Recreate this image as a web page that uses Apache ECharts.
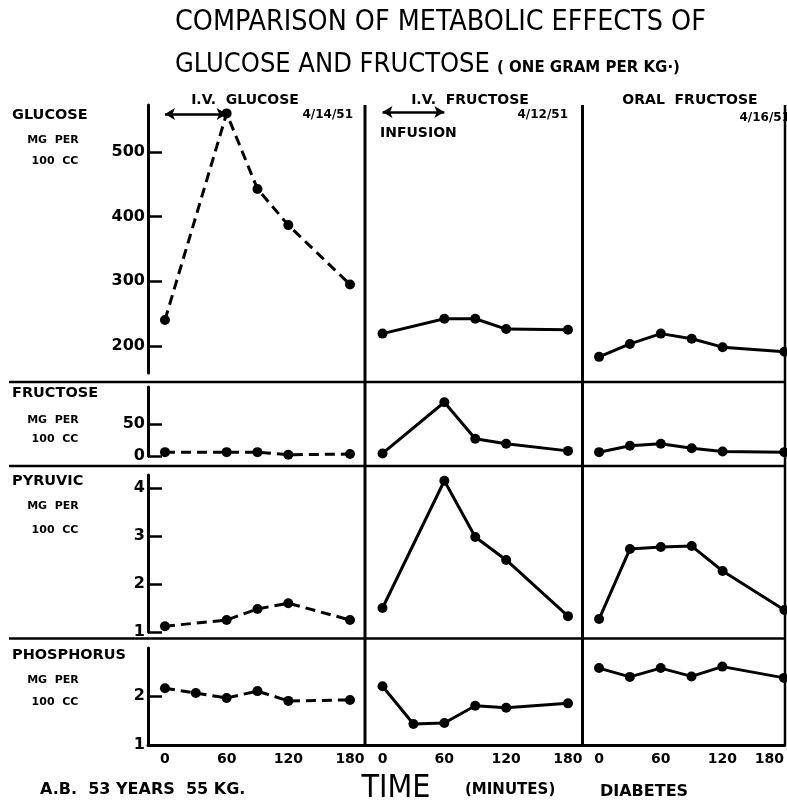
<!DOCTYPE html>
<html><head><meta charset="utf-8">
<script src="https://cdn.jsdelivr.net/npm/echarts@6/dist/echarts.min.js"></script>
<style>html,body{margin:0;padding:0;background:#fff}#c{width:787px;height:800px}</style>
</head><body><div id="c"></div>
<script>
// ---------- DATA ----------
const ivGlucoseTimes = [0, 60, 90, 120, 180];
const ivGlucoseGlucose = [240, 560, 443, 387, 295];
const ivGlucoseFructose = [6, 6, 6, 2, 3];
const ivGlucosePyruvic = [1.12, 1.25, 1.48, 1.6, 1.25];
const ivGlucosePhosTimes = [0, 30, 60, 90, 120, 180];
const ivGlucosePhosphorus = [2.16, 2.06, 1.96, 2.1, 1.9, 1.92];

const ivFructoseTimes = [0, 60, 90, 120, 180];
const ivFructoseGlucose = [219, 242, 242, 226, 225];
const ivFructoseFructose = [4, 84, 27, 19, 8];
const ivFructosePyruvic = [1.5, 4.15, 2.98, 2.5, 1.33];
const ivFructosePhosTimes = [0, 30, 60, 90, 120, 180];
const ivFructosePhosphorus = [2.2, 1.43, 1.45, 1.8, 1.76, 1.85];

const oralTimes = [0, 30, 60, 90, 120, 180];
const oralGlucose = [183, 203, 219, 211, 198, 191];
const oralFructose = [6, 16, 19, 12, 7, 6];
const oralPyruvic = [1.27, 2.73, 2.77, 2.79, 2.27, 1.46];
const oralPhosphorus = [2.57, 2.39, 2.57, 2.4, 2.6, 2.37];

const glucoseTicks = [200, 300, 400, 500];
const fructoseTicks = [0, 50];
const pyruvicTicks = [1, 2, 3, 4];
const phosphorusTicks = [1, 2];
const timeTicks = [0, 60, 120, 180];

const infusionStart = 0, infusionEnd = 60;
const ivGlucoseArrowLevel = 559;
const ivFructoseArrowLevel = 562;

const panelTitles = ['I.V.  GLUCOSE', 'I.V.  FRUCTOSE', 'ORAL  FRUCTOSE'];
const panelDates = ['4/14/51', '4/12/51', '4/16/51'];
const rowNames = ['GLUCOSE', 'FRUCTOSE', 'PYRUVIC', 'PHOSPHORUS'];
const unitLine1 = 'MG  PER';
const unitLine2 = '100  CC';

// ---------- LAYOUT ----------
const colL = [148, 365, 583], colR = [365, 582, 785];
const xMin = [-16.5, -17, -15.6], xMax = [194.6, 193.6, 180.6];
const rowT = [105, 387, 475, 648], rowB = [373, 456, 632, 745];
const yMin = [158, 0, 1, 1], yMax = [573, 107.8, 4.27, 2.98];
const rowTicks = [glucoseTicks, fructoseTicks, pyruvicTicks, phosphorusTicks];

const pair = (ts, vs) => ts.map((t, i) => [t, vs[i]]);
const seriesData = [
  [pair(ivGlucoseTimes, ivGlucoseGlucose), pair(ivFructoseTimes, ivFructoseGlucose), pair(oralTimes, oralGlucose)],
  [pair(ivGlucoseTimes, ivGlucoseFructose), pair(ivFructoseTimes, ivFructoseFructose), pair(oralTimes, oralFructose)],
  [pair(ivGlucoseTimes, ivGlucosePyruvic), pair(ivFructoseTimes, ivFructosePyruvic), pair(oralTimes, oralPyruvic)],
  [pair(ivGlucosePhosTimes, ivGlucosePhosphorus), pair(ivFructosePhosTimes, ivFructosePhosphorus), pair(oralTimes, oralPhosphorus)]
];

const BOLD = "'DejaVu Sans', 'Liberation Sans', sans-serif";
const COND = "'DejaVu Sans Condensed', 'Liberation Sans Narrow', 'Liberation Sans', sans-serif";

const grids = [], xAxes = [], yAxes = [], series = [];
for (let r = 0; r < 4; r++) {
  for (let c = 0; c < 3; c++) {
    const idx = r * 3 + c;
    grids.push({ left: colL[c], top: rowT[r], width: colR[c] - colL[c], height: rowB[r] - rowT[r], containLabel: false });
    const bottomRow = r === 3;
    xAxes.push({
      type: 'value', gridIndex: idx, min: xMin[c], max: xMax[c],
      show: bottomRow,
      axisLine: { show: bottomRow, onZero: false, lineStyle: { color: '#000', width: 3 } },
      axisTick: { show: false },
      splitLine: { show: false },
      axisLabel: {
        show: bottomRow, customValues: timeTicks, color: '#000', fontFamily: BOLD,
        fontWeight: 'bold', fontSize: 14, margin: 7,
        showMinLabel: true, showMaxLabel: true,
        alignMaxLabel: c === 2 ? 'right' : null
      }
    });
    const leftCol = c === 0;
    yAxes.push({
      type: 'value', gridIndex: idx, min: yMin[r], max: yMax[r],
      show: leftCol,
      axisLine: { show: leftCol, onZero: false, lineStyle: { color: '#000', width: 3 } },
      axisTick: { show: leftCol, inside: true, length: 14, customValues: rowTicks[r], lineStyle: { color: '#000', width: 2.5 } },
      splitLine: { show: false },
      axisLabel: {
        show: leftCol, customValues: rowTicks[r], color: '#000', fontFamily: BOLD,
        fontWeight: 'bold', fontSize: 16, margin: 3, showMinLabel: true, showMaxLabel: true
      }
    });
    const s = {
      type: 'line', xAxisIndex: idx, yAxisIndex: idx, data: seriesData[r][c],
      symbol: 'circle', symbolSize: 10, clip: false, animation: false,
      itemStyle: { color: '#000' },
      lineStyle: { color: '#000', width: 3, type: c === 0 ? [10, 6] : 'solid' }
    };
    if (r === 0 && c < 2) {
      const lvl = c === 0 ? ivGlucoseArrowLevel : ivFructoseArrowLevel;
      s.markLine = {
        silent: true, symbol: ['arrow', 'arrow'], symbolSize: [9, 10],
        label: { show: false },
        lineStyle: { color: '#000', width: 2.5, type: 'solid' },
        data: [[{ coord: [infusionStart, lvl] }, { coord: [infusionEnd, lvl] }]]
      };
    }
    series.push(s);
  }
}

const graphic = [];
function line(x1, y1, x2, y2, w) {
  graphic.push({ type: 'line', silent: true, shape: { x1, y1, x2, y2 }, style: { stroke: '#000', lineWidth: w } });
}
function text(str, x, y, size, weight, family, align) {
  graphic.push({ type: 'text', silent: true, x, y, style: {
    text: str, fill: '#000', fontSize: size, fontWeight: weight, fontFamily: family,
    textAlign: align || 'left', textVerticalAlign: 'middle' } });
}
// frame
line(365, 105, 365, 745, 3);
line(582.5, 105, 582.5, 745, 3);
line(785, 105, 785, 745, 2.5);
line(9, 382, 786, 382, 2.5);
line(9, 466, 786, 466, 2.5);
line(9, 638.5, 786, 638.5, 2.5);

// title
text('COMPARISON OF METABOLIC EFFECTS OF', 175, 23, 28.4, 'normal', COND, 'left');
text('GLUCOSE AND FRUCTOSE', 175, 65, 27, 'normal', COND, 'left');
text('( ONE GRAM PER KG·)', 497, 68, 15, 'bold', BOLD, 'left');

// panel headers
text(panelTitles[0], 245, 100, 14, 'bold', BOLD, 'center');
text(panelTitles[1], 470, 100, 14, 'bold', BOLD, 'center');
text(panelTitles[2], 690, 100, 14, 'bold', BOLD, 'center');
text(panelDates[0], 353, 115, 12, 'bold', BOLD, 'right');
text(panelDates[1], 568, 115, 12, 'bold', BOLD, 'right');
text(panelDates[2], 790, 118, 12, 'bold', BOLD, 'right');
text('INFUSION', 380, 133, 14, 'bold', BOLD, 'left');

// row labels
const rowLabelY = [[115, 140, 161], [393, 420, 439], [481, 506, 530], [655, 680, 702]];
for (let r = 0; r < 4; r++) {
  text(rowNames[r], 12, rowLabelY[r][0], 14.5, 'bold', BOLD, 'left');
  text(unitLine1, 53, rowLabelY[r][1], 11, 'bold', BOLD, 'center');
  text(unitLine2, 55, rowLabelY[r][2], 11, 'bold', BOLD, 'center');
}

// bottom
text('A.B.  53 YEARS  55 KG.', 40, 790, 16, 'bold', BOLD, 'left');
text('TIME', 396, 789, 32, 'normal', COND, 'center');
text('(MINUTES)', 465, 790, 15, 'bold', BOLD, 'left');
text('DIABETES', 600, 792, 16, 'bold', BOLD, 'left');

const chart = echarts.init(document.getElementById('c'), null, { renderer: 'canvas' });
chart.setOption({
  backgroundColor: '#fff', animation: false,
  grid: grids, xAxis: xAxes, yAxis: yAxes, series: series, graphic: graphic
});
</script></body></html>
